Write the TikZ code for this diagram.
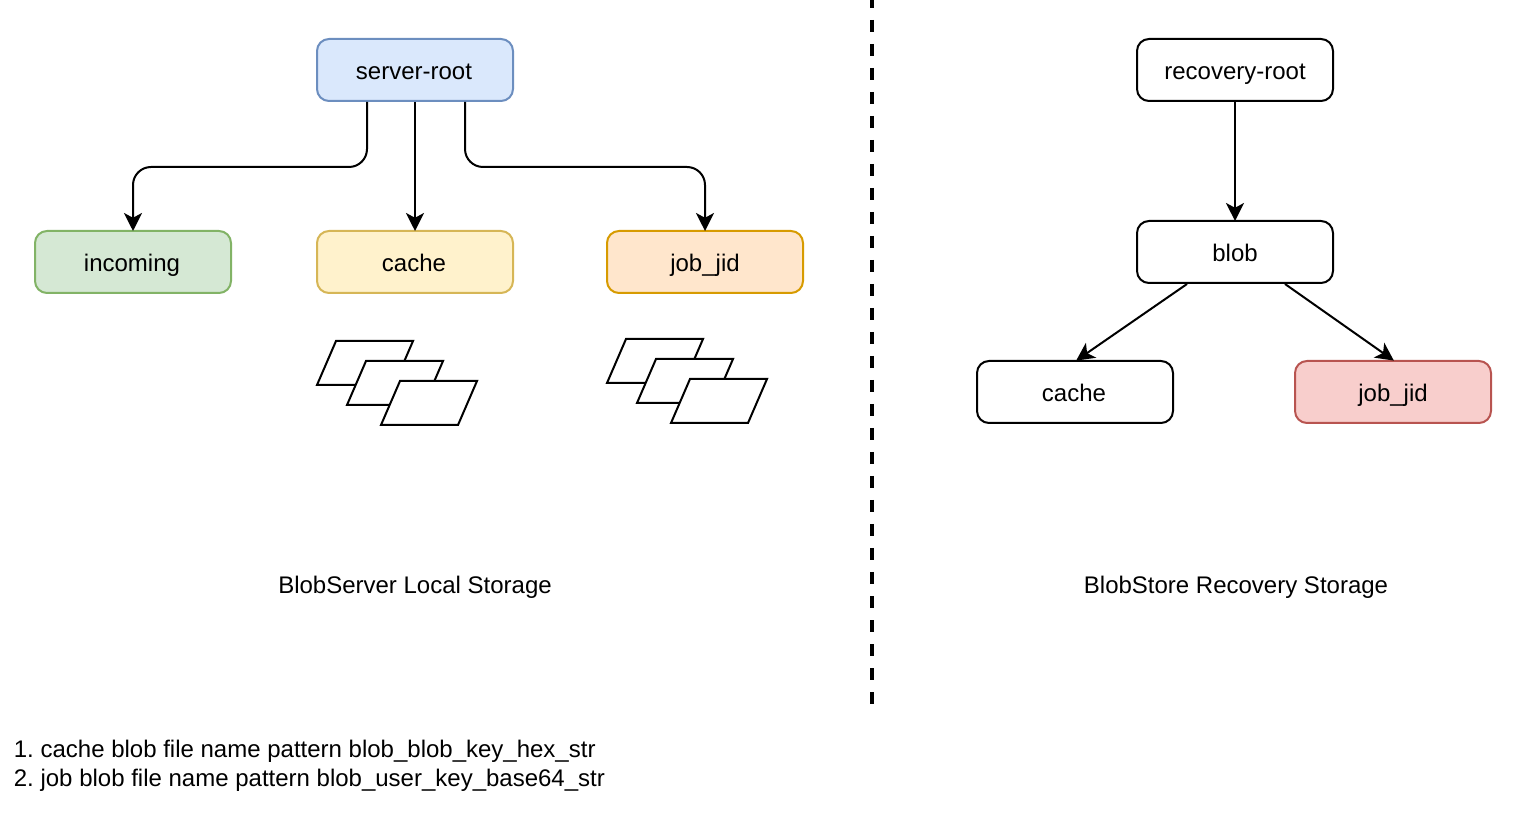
\documentclass[tikz,border=0pt]{standalone}
\usepackage{fontspec}
\setmainfont{Liberation Sans}
\usetikzlibrary{arrows.meta}
\definecolor{blueF}{HTML}{DAE8FC}\definecolor{blueD}{HTML}{6C8EBF}
\definecolor{greenF}{HTML}{D5E8D4}\definecolor{greenD}{HTML}{82B366}
\definecolor{yelF}{HTML}{FFF2CC}\definecolor{yelD}{HTML}{D6B656}
\definecolor{orF}{HTML}{FFE6CC}\definecolor{orD}{HTML}{D79B00}
\definecolor{redF}{HTML}{F8CECC}\definecolor{redD}{HTML}{B85450}
\frenchspacing
\tikzset{
  x=0.5pt,y=-0.5pt,
  box/.style={draw=black,fill=white,rounded corners=6pt,line width=1pt,minimum width=98pt,minimum height=31pt,inner sep=0pt,text height=12pt,text depth=2pt,font=\fontsize{12}{14}\selectfont},
  caption/.style={inner sep=0pt,text height=11pt,text depth=2pt,font=\fontsize{12}{14}\selectfont},
  note/.style={inner sep=0pt,font=\fontsize{12}{14}\selectfont},
  arr/.style={line width=1pt,shorten >=-0.5pt,-{Stealth[length=9pt,width=9pt,inset=2.4pt]}},
  bent/.style={arr,rounded corners=9pt},
  filesheet/.pic={\draw[line width=1pt,fill=white,line join=miter] (19,0) -- (96,0) -- (77,44) -- (0,44) -- cycle;},
}
\begin{document}
\begin{tikzpicture}
\useasboundingbox (0,0) rectangle (1524,822);
\node[box,draw=blueD,fill=blueF] (root) at (415,70) {server-root\kern1pt};
\node[box,draw=greenD,fill=greenF] (incoming) at (133,262) {incoming\kern1pt};
\node[box,draw=yelD,fill=yelF] (cache1) at (415,262) {cache\kern1pt};
\node[box,draw=orD,fill=orF] (job1) at (705,262) {job\_jid};
\node[box] (recroot) at (1235,70) {recovery-root};
\node[box] (blob) at (1235,252) {blob};
\node[box] (cache2) at (1075,392) {cache\kern1pt};
\node[box,draw=redD,fill=redF] (job2) at (1393,392) {job\_jid};
\coordinate (midy) at (0,167);
\draw[bent] ([xshift=-24pt]root.south) -- ([xshift=-24pt]root.south |- midy) -- (incoming.north |- midy) -- (incoming.north);
\draw[arr] (root) -- (cache1);
\draw[bent] ([xshift=25pt]root.south) -- ([xshift=25pt]root.south |- midy) -- (job1.north |- midy) -- (job1.north);
\draw[arr] (recroot) -- (blob);
\draw[arr] ([xshift=-24pt]blob.south) -- ([xshift=1pt]cache2.north);
\draw[arr] ([xshift=25pt]blob.south) -- (job2.north);
\pic at (317,341) {filesheet};
\pic at (347,361) {filesheet};
\pic at (381,381) {filesheet};
\pic at (607,339) {filesheet};
\pic at (637,359) {filesheet};
\pic at (671,379) {filesheet};
\coordinate (dtop) at (872,0);
\coordinate (dbot) at (872,704);
\draw[line width=2pt,dash pattern=on 6pt off 6pt,dash phase=2pt] (dtop) -- (dbot);
\node[caption] (lab1) at (415,585) {BlobServer Local Storage};
\node[caption] (lab2) at (1236,585) {BlobStore Recovery Storage};
\node[note,anchor=base west] (n1) at (13.5,757) {1. cache blob file name pattern blob\_blob\_key\_hex\_str};
\node[note,anchor=base west] (n2) at (13.5,786) {2. job blob file name pattern blob\_user\_key\_base64\_str};
\end{tikzpicture}
\end{document}
